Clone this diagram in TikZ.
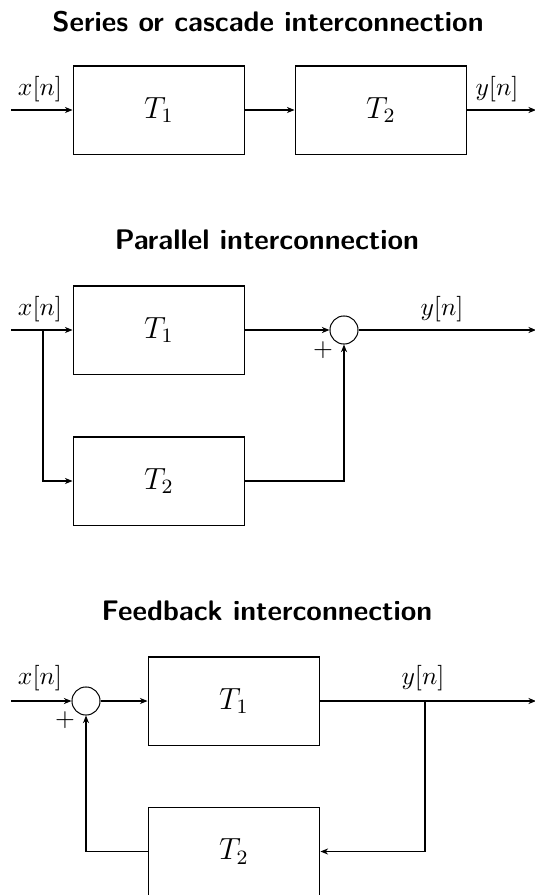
\documentclass[tikz,border=0pt]{standalone}
\usetikzlibrary{arrows.meta}
\begin{document}
\begin{tikzpicture}[x=0.392pt,y=-0.392pt,
  blk/.style={draw, minimum width=67.4pt, minimum height=34.5pt, inner sep=0pt, font=\large},
  sumc/.style={draw, circle, minimum size=11pt, inner sep=0pt},
  ttl/.style={font=\sffamily\bfseries\fontsize{11.1}{13}\selectfont, inner sep=0pt},
  lbl/.style={inner sep=0pt},
  conn/.style={-{Stealth[length=3pt,width=2.4pt]}},
  line width=0.4pt]
\useasboundingbox (0,0) rectangle (534,895);
% Series
\node[ttl] (t1) at (268,22) {Series or cascade interconnection};
\node[blk] (sA) at (159,110) {$T_1$};
\node[blk] (sB) at (381,110) {$T_2$};
\coordinate (sIn) at (11,110);
\coordinate (sOut) at (536,110);
\draw[conn] (sIn) -- (sA);
\draw[conn] (sA) -- (sB);
\draw[conn] (sB) -- (sOut);
\node[lbl] (sx) at (40,89) {$x[n]$};
\node[lbl] (sy) at (497,89) {$y[n]$};
% Parallel
\node[ttl] (t2) at (267,240) {Parallel interconnection};
\node[blk] (pA) at (159,330) {$T_1$};
\node[blk] (pB) at (159,481) {$T_2$};
\node[sumc] (pS) at (344,330) {};
\coordinate (pIn) at (11,330);
\coordinate (pBr) at (43,330);
\coordinate (pOut) at (536,330);
\draw (pIn) -- (pBr);
\draw[conn] (pBr) -- (pA);
\draw[conn] (pBr) |- (pB);
\draw[conn] (pA) -- (pS);
\draw[conn] (pB) -| (pS);
\draw[conn] (pS) -- (pOut);
\node[lbl] (px) at (40,309) {$x[n]$};
\node[lbl] (py) at (442,309) {$y[n]$};
\node[lbl] (pp) at (323,350) {$+$};
% Feedback
\node[ttl] (t3) at (267,611) {Feedback interconnection};
\node[blk] (fA) at (234,701) {$T_1$};
\node[blk] (fB) at (234,851.5) {$T_2$};
\node[sumc] (fS) at (86,701) {};
\coordinate (fIn) at (11,701);
\coordinate (fBr) at (425,701);
\coordinate (fOut) at (536,701);
\draw[conn] (fIn) -- (fS);
\draw[conn] (fS) -- (fA);
\draw (fA) -- (fBr);
\draw[conn] (fBr) -- (fOut);
\draw[conn] (fBr) |- (fB);
\draw[conn] (fB) -| (fS);
\node[lbl] (fx) at (40,678) {$x[n]$};
\node[lbl] (fy) at (423,678) {$y[n]$};
\node[lbl] (fp) at (65,720) {$+$};
\end{tikzpicture}
\end{document}
